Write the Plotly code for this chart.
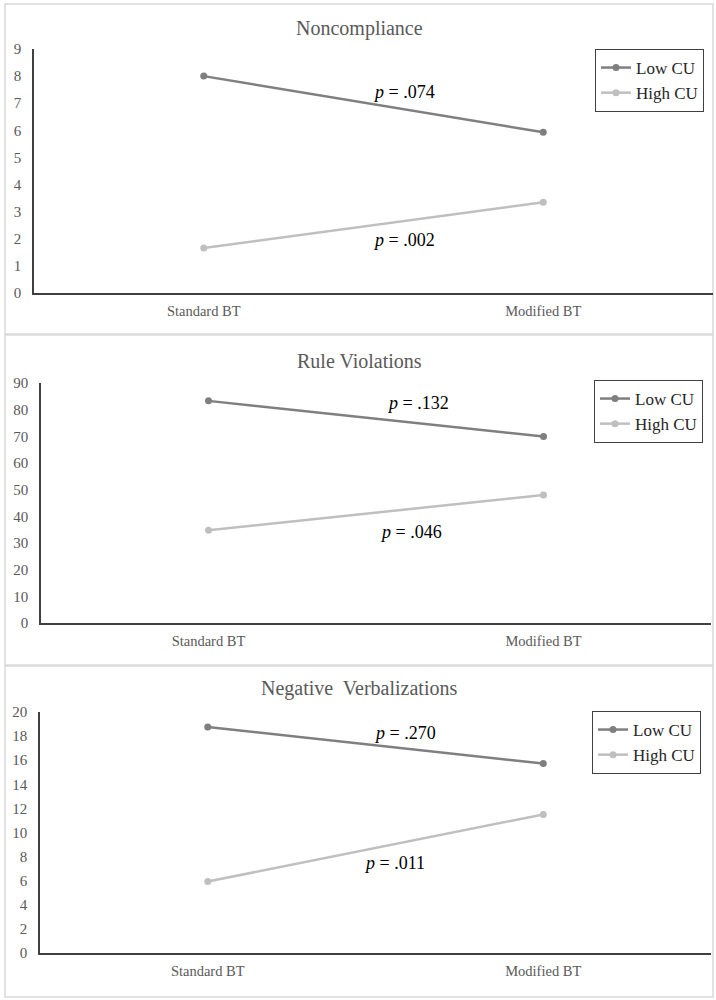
import plotly.graph_objects as go

categories = ["Standard BT", "Modified BT"]
series_names = ["Low CU", "High CU"]

panel_titles = ["Noncompliance", "Rule Violations", "Negative  Verbalizations"]

noncompliance_low = [8.0, 5.93]
noncompliance_high = [1.66, 3.35]
rule_low = [83.3, 69.9]
rule_high = [34.8, 48.0]
negverb_low = [18.75, 15.72]
negverb_high = [5.93, 11.5]

y_ranges = [[0, 9], [0, 90], [0, 20]]
y_dtick = [1, 10, 2]

p_labels = [
    ["<i>p</i> = .074", "<i>p</i> = .002"],
    ["<i>p</i> = .132", "<i>p</i> = .046"],
    ["<i>p</i> = .270", "<i>p</i> = .011"],
]

W, H = 716, 1000
FONT = "Liberation Serif, Times New Roman, serif"
LOW_COLOR = "#7f7f7f"
HIGH_COLOR = "#bfbfbf"
AXIS_COLOR = "#404040"
TEXT_COLOR = "#595959"

# layout geometry in pixels (top-left origin)
panels = [
    dict(box=(5, 4, 713, 334), plot=(34, 49, 713, 293), title_y=28,
         legend=(704, 49), p=[(404, 92), (404, 240)]),
    dict(box=(5, 335, 713, 665), plot=(41, 383, 711, 623), title_y=361,
         legend=(703, 380), p=[(418, 403), (411, 532)]),
    dict(box=(5, 666, 713, 997), plot=(40, 712, 711, 953), title_y=688,
         legend=(701, 711), p=[(405, 733), (394, 863)]),
]

data_sets = [
    (noncompliance_low, noncompliance_high),
    (rule_low, rule_high),
    (negverb_low, negverb_high),
]

def px(x):
    return x / W

def py(y):
    return 1 - y / H

fig = go.Figure()
shapes = []
annotations = []
layout_extra = {}

for i, (pan, (low, high)) in enumerate(zip(panels, data_sets)):
    n = "" if i == 0 else str(i + 1)
    xa = "x" + n
    ya = "y" + n
    leg = "legend" + n
    for name, vals, color in [(series_names[0], low, LOW_COLOR), (series_names[1], high, HIGH_COLOR)]:
        fig.add_trace(go.Scatter(
            x=categories, y=vals, name=name, mode="lines+markers",
            line=dict(color=color, width=2.5),
            marker=dict(color=color, size=7),
            xaxis=xa, yaxis=ya, legend=leg, showlegend=True,
        ))
    x0, y0, x1, y1 = pan["plot"]
    layout_extra["xaxis" + n] = dict(
        domain=[px(x0), px(x1)], anchor=ya, type="category",
        range=[-0.5, 1.5], showline=True, linecolor=AXIS_COLOR, linewidth=1.5,
        showgrid=False, zeroline=False, ticks="",
        tickfont=dict(family=FONT, size=14.5, color=TEXT_COLOR),
        ticklabelstandoff=4, fixedrange=True, automargin=False,
    )
    layout_extra["yaxis" + n] = dict(
        domain=[py(y1), py(y0)], anchor=xa, range=y_ranges[i],
        dtick=y_dtick[i], tick0=0, showline=True, linecolor=AXIS_COLOR,
        linewidth=1.5, showgrid=False, zeroline=False, ticks="",
        tickfont=dict(family=FONT, size=15, color=TEXT_COLOR),
        ticklabelstandoff=8, fixedrange=True, automargin=False,
    )
    lx, ly = pan["legend"]
    layout_extra[leg] = dict(
        x=px(lx), y=py(ly), xanchor="right", yanchor="top",
        bordercolor=AXIS_COLOR, borderwidth=1, bgcolor="white",
        font=dict(family=FONT, size=17, color="#262626"),
        itemwidth=30, tracegroupgap=0,
    )
    bx0, by0, bx1, by1 = pan["box"]
    shapes.append(dict(type="rect", xref="paper", yref="paper",
                       x0=px(bx0), x1=px(bx1), y0=py(by1), y1=py(by0),
                       line=dict(color="#d9d9d9", width=1.5), layer="below"))
    annotations.append(dict(
        text=panel_titles[i], xref="paper", yref="paper",
        x=px((bx0 + bx1) / 2), y=py(pan["title_y"]), xanchor="center", yanchor="middle",
        showarrow=False, font=dict(family=FONT, size=20, color=TEXT_COLOR),
    ))
    for (ax, ay), txt in zip(pan["p"], p_labels[i]):
        annotations.append(dict(
            text=txt, xref="paper", yref="paper", x=px(ax), y=py(ay),
            xanchor="center", yanchor="middle", showarrow=False,
            font=dict(family=FONT, size=18, color="#000000"),
        ))

fig.update_layout(
    width=W, height=H, margin=dict(l=0, r=0, t=0, b=0, pad=0, autoexpand=False),
    paper_bgcolor="white", plot_bgcolor="white",
    shapes=shapes, annotations=annotations, **layout_extra,
)

fig.write_html(
    "out.html",
    config={"displayModeBar": False},
    post_script=(
        "document.body.style.margin='0';document.body.style.padding='0';"
        "document.documentElement.style.overflow='hidden';"
        "var d=document.getElementById('{plot_id}');"
        "d.style.position='fixed';d.style.top='0px';d.style.left='0px';"
    ),
)
